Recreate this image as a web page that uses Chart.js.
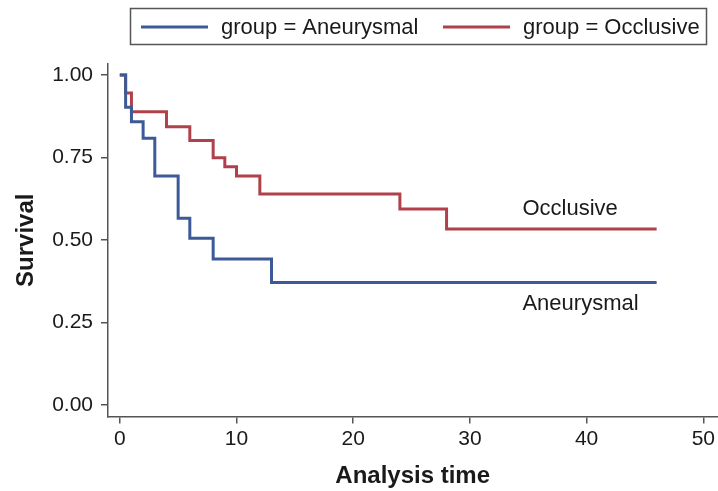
<!DOCTYPE html>
<html>
<head>
<meta charset="utf-8">
<script src="https://cdn.jsdelivr.net/npm/chart.js@4"></script>
<style>
  html, body { margin: 0; padding: 0; background: #fff; }
  #wrap { width: 718px; height: 491px; }
</style>
</head>
<body>
<div id="wrap"><canvas id="km"></canvas></div>
<script>
// Kaplan-Meier estimates
const groupNames = ['Aneurysmal', 'Occlusive'];
const timeAneurysmal = [0, 0.5, 1, 2, 3, 5, 6, 8, 13, 46];
const survAneurysmal = [1.00, 0.902, 0.858, 0.808, 0.694, 0.566, 0.505, 0.442, 0.371, 0.371];
const timeOcclusive = [0, 0.5, 1, 4, 6, 8, 9, 10, 12, 24, 28, 46];
const survOcclusive = [1.00, 0.945, 0.888, 0.843, 0.801, 0.749, 0.722, 0.694, 0.639, 0.594, 0.533, 0.533];
const yTicks = [0, 0.25, 0.5, 0.75, 1.0];
const xTicks = [0, 10, 20, 30, 40, 50];

const BLUE = '#3d5a98';
const RED = '#b0414b';
const AXIS = '#555555';
const TEXT = '#1a1a1a';
const FONT = '"Liberation Sans", Arial, Helvetica, sans-serif';

function toPoints(xs, ys) {
    return xs.map((x, i) => ({ x: x, y: ys[i] }));
}

// Legend box and in-plot curve labels
const decorations = {
    id: 'decorations',
    afterDraw(chart) {
        const ctx = chart.ctx;
        const xs = chart.scales.x, ys = chart.scales.y;
        ctx.save();

        // legend box
        ctx.strokeStyle = AXIS;
        ctx.lineWidth = 1.5;
        ctx.strokeRect(130.5, 8.5, 576, 36);
        ctx.font = '22px ' + FONT;
        ctx.fillStyle = TEXT;
        ctx.textBaseline = 'middle';
        ctx.textAlign = 'left';
        const items = [
            { x: 141, color: BLUE, label: 'group = ' + groupNames[0] },
            { x: 443, color: RED, label: 'group = ' + groupNames[1] }
        ];
        items.forEach(it => {
            ctx.strokeStyle = it.color;
            ctx.lineWidth = 3;
            ctx.beginPath();
            ctx.moveTo(it.x, 27);
            ctx.lineTo(it.x + 67, 27);
            ctx.stroke();
            ctx.fillText(it.label, it.x + 80, 28);
        });

        // curve labels
        ctx.textBaseline = 'alphabetic';
        ctx.fillText(groupNames[1], xs.getPixelForValue(34.5), ys.getPixelForValue(0.576));
        ctx.fillText(groupNames[0], xs.getPixelForValue(34.5), ys.getPixelForValue(0.288));
        ctx.restore();
    }
};

new Chart(document.getElementById('km'), {
    type: 'line',
    data: {
        datasets: [
            {
                label: 'group = ' + groupNames[0],
                data: toPoints(timeAneurysmal, survAneurysmal),
                borderColor: BLUE,
                borderWidth: 3,
                stepped: 'before',
                pointRadius: 0,
                fill: false
            },
            {
                label: 'group = ' + groupNames[1],
                data: toPoints(timeOcclusive, survOcclusive),
                borderColor: RED,
                borderWidth: 3,
                stepped: 'before',
                pointRadius: 0,
                fill: false
            }
        ]
    },
    options: {
        responsive: true,
        maintainAspectRatio: false,
        animation: false,
        layout: { padding: { top: 64, right: 0, left: 0, bottom: 0 } },
        plugins: {
            legend: { display: false },
            tooltip: { enabled: false }
        },
        scales: {
            x: {
                type: 'linear',
                min: -1.01,
                max: 51.2,
                afterBuildTicks: s => { s.ticks = xTicks.map(v => ({ value: v })); },
                afterFit: s => { s.height = 74.5; },
                grid: { drawOnChartArea: false, drawTicks: true, tickLength: 7, color: AXIS, lineWidth: 1.5 },
                border: { display: true, color: AXIS, width: 1.5 },
                ticks: { color: TEXT, font: { family: FONT, size: 21 }, padding: 3, maxRotation: 0 },
                title: {
                    display: true,
                    text: 'Analysis time',
                    color: TEXT,
                    font: { family: FONT, size: 24, weight: 'bold' },
                    padding: { top: 6, bottom: 0 }
                }
            },
            y: {
                type: 'linear',
                min: -0.035,
                max: 1.033,
                afterBuildTicks: s => { s.ticks = yTicks.map(v => ({ value: v })); },
                afterFit: s => { s.width = 108; },
                grid: { drawOnChartArea: false, drawTicks: true, tickLength: 7, color: AXIS, lineWidth: 1.5 },
                border: { display: true, color: AXIS, width: 1.5 },
                ticks: {
                    color: TEXT,
                    font: { family: FONT, size: 21 },
                    padding: 8,
                    callback: v => v.toFixed(2)
                },
                title: {
                    display: true,
                    text: 'Survival',
                    color: TEXT,
                    font: { family: FONT, size: 24, weight: 'bold' },
                    padding: { top: 12, bottom: 4 }
                }
            }
        }
    },
    plugins: [decorations]
});
</script>
</body>
</html>
